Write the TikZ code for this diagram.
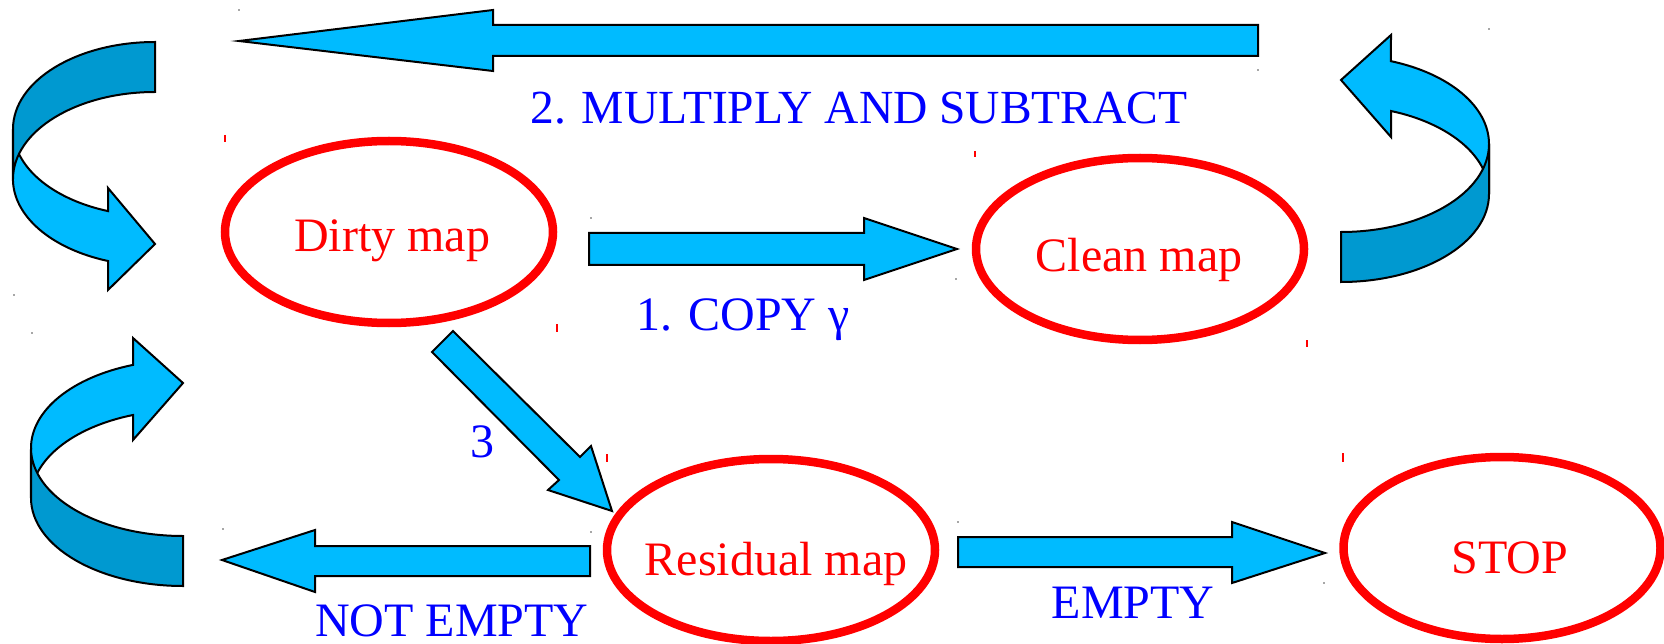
\documentclass[tikz,border=0pt]{standalone}
\usepackage{fontspec}
\setmainfont{Liberation Serif}
\usetikzlibrary{shapes.geometric}
\definecolor{lightb}{RGB}{0,187,255}
\definecolor{darkb}{RGB}{0,153,208}
\begin{document}
\begin{tikzpicture}[x=1pt,y=-1pt,
  blk/.style={fill=lightb, draw=black, line width=2pt, line join=miter},
  band/.style={fill=darkb, draw=black, line width=2pt},
  mapnode/.style={ellipse, draw=red, line width=8.5pt, inner sep=0pt, minimum width=328pt, minimum height=182pt},
  maptext/.style={text=red, font=\fontsize{48}{56}\selectfont, anchor=base, inner sep=0pt},
  lbl/.style={text=blue, font=\fontsize{48}{56}\selectfont, anchor=base, inner sep=0pt},
  tickmark/.style={draw=red, line width=1.2pt},
  handle/.style={fill=black!70}
]
\useasboundingbox (0,0) rectangle (1664,644);

% map ellipses
\node[mapnode] (dirty) at (389,232) {};
\node[mapnode] (clean) at (1140,249) {};
\node[mapnode] (resid) at (771,550) {};
\node[mapnode, minimum width=317pt] (stop) at (1502,548) {};

% straight block arrows
\coordinate (a2tip) at (239,41);
\draw[blk] (a2tip) -- (493,10) -- (493,25) -- (1258,25) -- (1258,56) -- (493,56) -- (493,71) -- cycle;
\coordinate (a1tip) at (957,249);
\draw[blk] (589,233) -- (864,233) -- (864,218) -- (a1tip) -- (864,280) -- (864,265) -- (589,265) -- cycle;
\coordinate (a3tip) at (612,511);
\draw[blk] (453,331) -- (580,457) -- (591,446) -- (a3tip) -- (548,490) -- (559,480) -- (432,352) -- cycle;
\coordinate (aetip) at (1325,553);
\draw[blk] (958,537) -- (1232,537) -- (1232,522) -- (aetip) -- (1232,583) -- (1232,567) -- (958,567) -- cycle;
\coordinate (anetip) at (222,560);
\draw[blk] (anetip) -- (315,530) -- (315,546) -- (590,546) -- (590,576) -- (315,576) -- (315,592) -- cycle;

% curved ribbon arrows: top left
\draw[blk] (13,129) arc[start angle=180, end angle=109.3, x radius=142, y radius=87]
  -- (108,188) -- (155,244) -- (108,290) -- (108,261)
  arc[start angle=109.3, end angle=180, x radius=142, y radius=87] -- cycle;
\draw[band] (155,42) arc[start angle=270, end angle=180, x radius=142, y radius=87]
  -- (13,179) arc[start angle=180, end angle=270, x radius=142, y radius=87] -- cycle;

% lower left
\draw[blk] (31,448) arc[start angle=180, end angle=250.8, x radius=152, y radius=88]
  -- (133,338) -- (183,383) -- (133,440) -- (133,415)
  arc[start angle=250.8, end angle=180, x radius=152, y radius=88] -- cycle;
\draw[band] (31,448) arc[start angle=180, end angle=90, x radius=152, y radius=88]
  -- (183,586) arc[start angle=90, end angle=180, x radius=152, y radius=88] -- cycle;

% top right
\draw[blk] (1489,144) arc[start angle=360, end angle=289.7, x radius=148, y radius=88]
  -- (1391,35) -- (1341,80) -- (1391,137) -- (1391,111)
  arc[start angle=289.7, end angle=360, x radius=148, y radius=88] -- cycle;
\draw[band] (1489,144) arc[start angle=0, end angle=90, x radius=148, y radius=88]
  -- (1341,282) arc[start angle=90, end angle=0, x radius=148, y radius=88] -- cycle;

% texts
\node[maptext] (dirtyT) at (392,252) {Dirty map};
\node[maptext] (cleanT) at (1139,272) {Clean map};
\node[maptext] (residT) at (776,575) {Residual map};
\node[maptext] (stopT) at (1510,573) {STOP};
\node[lbl, font=\fontsize{47.5}{56}\selectfont] (lab2) at (859,124) {2. MULTIPLY AND SUBTRACT};
\node[lbl] (lab1) at (743,330) {1. COPY γ};
\node[lbl] (lab3) at (482,457) {3};
\node[lbl, text depth=0pt] (labne) at (452,636) {NOT EMPTY};
\node[lbl] (labe) at (1133,618) {EMPTY};

% small red text-box handles
\draw[tickmark] (225,135) -- (225,142);
\draw[tickmark] (975,151) -- (975,157);
\draw[tickmark] (557,324) -- (557,332);
\draw[tickmark] (1307,340) -- (1307,347);
\draw[tickmark] (607,454) -- (607,462);
\draw[tickmark] (1343,453) -- (1343,462);

% tiny shape handles
\foreach \p in {(239,10),(1258,70),(591,218),(956,279),(1489,29),(14,295),(32,333),(223,529),(958,522),(1324,583),(591,532)}
  \fill[handle] \p circle (0.9);
\end{tikzpicture}
\end{document}
